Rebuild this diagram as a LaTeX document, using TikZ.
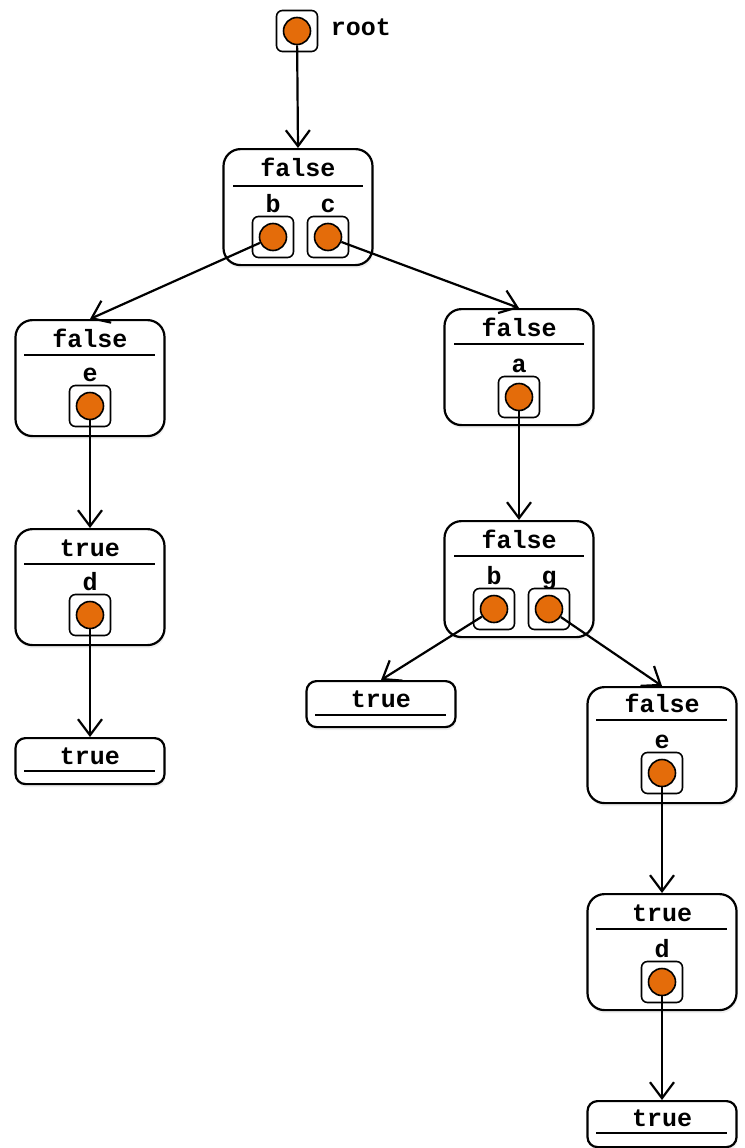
\documentclass[tikz,border=0pt]{standalone}
\usepackage{fontspec}
\setmonofont{Liberation Mono}
\usepackage{xcolor}
\definecolor{dotorange}{RGB}{228, 108, 10}
\usepackage{tikz}
\usetikzlibrary{arrows.meta,positioning,shadows}

\begin{document}
\begin{tikzpicture}[
    x=1pt, y=-1pt,
    record/.style={rectangle, draw, line width=2.2pt, rounded corners=17pt, minimum width=149pt, minimum height=116pt, fill=white, anchor=north, drop shadow={opacity=0.12, shadow xshift=1pt, shadow yshift=-3pt}},
    leaf/.style={record, minimum height=46pt, rounded corners=10pt},
    slot/.style={rectangle, draw, line width=1.6pt, rounded corners=6pt, minimum size=41pt, fill=white},
    dot/.style={circle, draw, line width=1.6pt, fill=dotorange, minimum size=27pt, inner sep=0pt},
    txt/.style={font=\fontsize{25}{25}\selectfont\ttfamily\bfseries, anchor=base, inner sep=0pt},
    rule/.style={line width=2.6pt},
    arrow/.style={-{Straight Barb[length=16pt, width=24pt]}, line width=2.2pt}
]
\useasboundingbox (0,0) rectangle (744,1148);

% root pointer
\node[slot] (rootslot) at (297,31) {};
\node[dot] (rootdot) at (297,31) {};
\node[txt] (rootlbl) at (361,36) {root};

% top record: false / b c
\node[record] (A) at (298,148) {};
\node[txt] (Atitle) at (298,176) {false};
\draw[rule] (233,186) -- (363,186);
\node[txt] (Albl1) at (273,212) {b};
\node[txt] (Albl2) at (328,212) {c};
\node[slot] (Aslot1) at (273,237) {};
\node[slot] (Aslot2) at (328,237) {};
\node[dot] (Ab) at (273,237) {};
\node[dot] (Ac) at (328,237) {};

% left branch
\node[record] (B) at (90,319) {};
\node[txt] (Btitle) at (90,347) {false};
\draw[rule] (24,355) -- (155,355);
\node[txt] (Blbl) at (90,381) {e};
\node[slot] (Bslot) at (90,406) {};
\node[dot] (Be) at (90,406) {};

\node[record] (C) at (90,528) {};
\node[txt] (Ctitle) at (90,556) {true};
\draw[rule] (24,564) -- (155,564);
\node[txt] (Clbl) at (90,590) {d};
\node[slot] (Cslot) at (90,615) {};
\node[dot] (Cd) at (90,615) {};

\node[leaf] (D) at (90,737) {};
\node[txt] (Dtitle) at (90,764) {true};
\draw[rule] (24,771) -- (155,771);

% right branch
\node[record] (E) at (519,308) {};
\node[txt] (Etitle) at (519,336) {false};
\draw[rule] (454,344) -- (584,344);
\node[txt] (Elbl) at (519,372) {a};
\node[slot] (Eslot) at (519,397) {};
\node[dot] (Ea) at (519,397) {};

\node[record] (F) at (519,520) {};
\node[txt] (Ftitle) at (519,548) {false};
\draw[rule] (454,556) -- (584,556);
\node[txt] (Flbl1) at (494,584) {b};
\node[txt] (Flbl2) at (549,584) {g};
\node[slot] (Fslot1) at (494,609) {};
\node[slot] (Fslot2) at (549,609) {};
\node[dot] (Fb) at (494,609) {};
\node[dot] (Fg) at (549,609) {};

\node[leaf] (G) at (381,680) {};
\node[txt] (Gtitle) at (381,707) {true};
\draw[rule] (315,715) -- (446,715);

\node[record] (H) at (662,686) {};
\node[txt] (Htitle) at (662,712) {false};
\draw[rule] (596,720) -- (727,720);
\node[txt] (Hlbl) at (662,748) {e};
\node[slot] (Hslot) at (662,773) {};
\node[dot] (He) at (662,773) {};

\node[record] (I) at (662,893) {};
\node[txt] (Ititle) at (662,921) {true};
\draw[rule] (596,929) -- (727,929);
\node[txt] (Ilbl) at (662,957) {d};
\node[slot] (Islot) at (662,982) {};
\node[dot] (Id) at (662,982) {};

\node[leaf] (J) at (662,1100) {};
\node[txt] (Jtitle) at (662,1126) {true};
\draw[rule] (596,1133) -- (727,1133);

% pointers
\draw[arrow] (rootdot) -- (A.north);
\draw[arrow] (Ab) -- (B.north);
\draw[arrow] (Ac) -- (E.north);
\draw[arrow] (Be) -- (C.north);
\draw[arrow] (Cd) -- (D.north);
\draw[arrow] (Ea) -- (F.north);
\draw[arrow] (Fb) -- (G.north);
\draw[arrow] (Fg) -- (H.north);
\draw[arrow] (He) -- (I.north);
\draw[arrow] (Id) -- (J.north);

\end{tikzpicture}
\end{document}
